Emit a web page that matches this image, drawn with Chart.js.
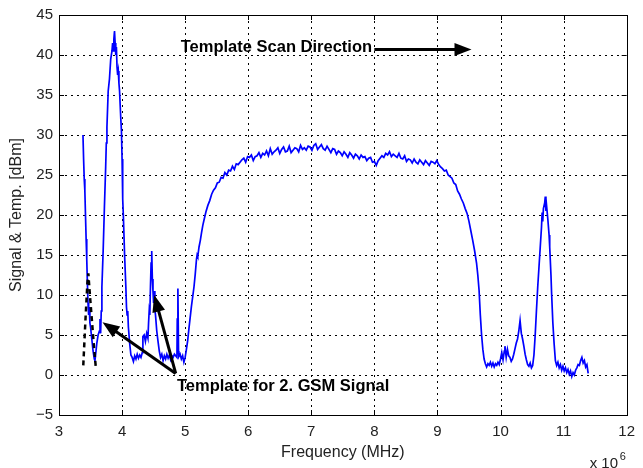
<!DOCTYPE html>
<html>
<head>
<meta charset="utf-8">
<script src="https://cdn.jsdelivr.net/npm/chart.js@4/dist/chart.umd.min.js"></script>
<style>
  html, body { margin: 0; padding: 0; background: #fff; }
  #wrap { width: 643px; height: 468px; position: relative; }
</style>
</head>
<body>
<div id="wrap"><canvas id="c" width="643" height="468"></canvas></div>
<script>
// ---------- data ----------
const xTicks = [3, 4, 5, 6, 7, 8, 9, 10, 11, 12];
const yTicks = [-5, 0, 5, 10, 15, 20, 25, 30, 35, 40, 45];

const signalFreq = [
  3.38,3.39,3.40,3.41,3.42,3.43,3.44,3.45,3.46,3.47,3.48,3.49,3.50,3.52,3.54,3.56,3.57,3.58,3.60,3.62,
  3.64,3.65,3.66,3.67,3.68,3.70,3.72,3.74,3.75,3.76,3.78,3.80,3.82,3.84,3.85,3.86,3.87,3.88,3.89,3.90,
  3.91,3.92,3.93,3.94,3.95,3.96,3.98,3.99,4.00,4.01,4.02,4.04,4.06,4.07,4.08,4.09,4.10,4.12,4.14,4.16,
  4.18,4.20,4.22,4.24,4.26,4.28,4.30,4.32,4.33,4.35,4.37,4.39,4.41,4.42,4.43,4.44,4.45,4.46,4.47,4.48,
  4.49,4.50,4.51,4.52,4.53,4.55,4.57,4.59,4.61,4.63,4.65,4.67,4.69,4.71,4.73,4.75,4.77,4.79,4.81,4.83,
  4.87,4.875,4.885,4.895,4.90,4.92,4.94,4.96,4.98,5.00,5.02,5.04,5.06,5.08,5.10,5.12,5.14,5.16,5.18,5.19,
  5.20,5.22,5.24,5.26,5.28,5.30,5.33,5.36,5.39,5.42,5.45,5.48,5.51,5.54,5.57,5.60,5.63,5.66,5.69,5.72,
  5.75,5.78,5.81,5.84,5.87,5.90,5.93,5.96,5.99,6.02,6.05,6.08,6.11,6.14,6.17,6.20,6.23,6.26,6.29,6.32,
  6.35,6.38,6.41,6.44,6.47,6.50,6.53,6.56,6.59,6.62,6.65,6.68,6.71,6.74,6.77,6.80,6.83,6.86,6.89,6.92,
  6.95,6.98,7.01,7.04,7.07,7.10,7.13,7.16,7.19,7.22,7.25,7.28,7.31,7.34,7.37,7.40,7.43,7.46,7.49,7.52,
  7.55,7.58,7.61,7.64,7.67,7.70,7.73,7.76,7.79,7.82,7.85,7.88,7.91,7.94,7.97,8.00,8.03,8.06,8.09,8.12,
  8.15,8.18,8.21,8.24,8.27,8.30,8.33,8.36,8.39,8.42,8.45,8.48,8.51,8.54,8.57,8.60,8.63,8.66,8.69,8.72,
  8.75,8.78,8.81,8.84,8.87,8.90,8.93,8.96,8.99,9.02,9.05,9.08,9.11,9.14,9.17,9.20,9.23,9.26,9.29,9.32,
  9.35,9.38,9.41,9.44,9.47,9.50,9.53,9.56,9.59,9.62,9.64,9.66,9.68,9.70,9.72,9.74,9.76,9.78,9.80,9.82,
  9.84,9.86,9.88,9.90,9.92,9.94,9.96,9.98,10.00,10.02,10.04,10.06,10.07,10.09,10.11,10.13,10.15,10.17,10.19,10.21,
  10.23,10.25,10.27,10.29,10.31,10.33,10.35,10.37,10.39,10.41,10.43,10.45,10.47,10.49,10.51,10.53,10.55,10.57,10.59,10.61,
  10.63,10.65,10.66,10.67,10.68,10.70,10.71,10.72,10.73,10.75,10.77,10.78,10.80,10.81,10.83,10.85,10.87,10.89,10.91,10.93,
  10.95,10.97,10.99,11.01,11.03,11.05,11.07,11.09,11.11,11.13,11.15,11.17,11.19,11.21,11.23,11.25,11.27,11.29,11.31,11.33,
  11.35,11.37,11.39
];
const signalLevel = [
  30,27,24.5,23,20,17,14.5,11.5,9,7.5,8.5,6.5,6,4.5,3,2,1.8,2.5,4,5,
  5.5,7,5.2,8,11,15.5,21,26,29,31,35.5,37,39.5,40.5,41.5,40.5,42,43,41.5,40,
  41,38.5,37.5,38,36.5,35.5,32,30.5,27,22,20,15,11,8.5,7.5,8,6,4,2.5,2.2,
  1.7,2.4,2.0,2.6,2.1,2.5,2.2,2.8,4.8,5,4.2,5.2,4.6,6.5,8,7.5,11,14,15.5,12,
  10.5,9,10.5,8.2,7.5,5.5,4.2,3,2.2,2.6,1.8,2.4,2.0,2.6,2.1,2.5,1.9,2.4,2.2,2.6,
  2.2,7,10.8,3,2.3,2.6,2.0,2.4,1.6,2.2,3.2,4.3,5.8,7.2,8.6,9.8,11,12.6,14.5,15,
  14.8,16,16.8,17.8,18.7,19.4,20.4,21.2,21.8,22.6,23.1,23.4,24.0,24.1,24.7,24.6,25.3,25.0,25.6,25.5,
  26.1,25.7,26.4,26.3,26.6,26.9,27.1,26.6,27.3,27.2,27.5,26.8,27.3,27.4,27.8,27.2,27.7,27.5,28.0,27.4,
  28.3,27.6,27.9,28.1,28.4,27.7,28.2,28.5,27.9,28.0,28.6,27.8,28.1,28.4,28.3,27.9,28.7,28.2,28.4,28.1,
  28.6,28.5,28.1,28.7,28.9,28.2,28.5,28.8,28.3,28.1,28.6,28.2,27.8,28.3,28.2,27.6,28.0,27.8,27.4,27.9,
  27.6,27.2,27.8,27.5,27.1,27.6,27.4,27.0,27.5,27.2,27.3,26.8,27.1,27.2,26.6,26.7,26.2,26.8,27.1,27.4,
  27.2,27.7,27.5,27.9,27.3,27.6,27.4,27.2,27.7,27.1,27.0,27.4,26.7,27.0,26.9,26.5,27.0,26.6,26.4,26.9,
  26.6,26.3,26.8,26.5,26.2,26.7,26.6,26.4,26.8,26.3,26.0,25.8,25.5,25.6,25.0,24.8,24.6,24.0,23.8,23.0,
  22.6,22.0,21.5,20.8,20.2,19.2,18.0,16.8,15.5,14.0,12.5,10.6,7.5,5.0,3.2,2.0,1.4,1.0,1.4,1.2,
  1.6,1.1,1.5,1.0,1.4,1.2,1.6,1.3,2.0,2.8,1.9,3.0,3.6,2.2,3.2,2.4,2.2,1.7,2.0,2.6,
  3.3,4.0,4.5,5.5,6.8,5.2,4.5,3.6,2.6,1.9,1.3,1.1,1.5,0.9,1.2,2.5,5.0,8.1,11,13.5,
  16,18.5,20.3,19.2,20.8,21.5,22.3,20.5,21.2,19.5,17.5,16,12.5,10.2,6.5,3.9,1.8,1.2,1.6,0.9,
  1.3,0.6,1.1,0.5,0.9,0.3,0.7,0.1,0.5,-0.2,0.3,0.0,0.6,0.9,1.3,1.2,1.8,2.2,1.5,1.8,
  1.0,1.3,0.2
];

const templateFreq  = [3.385, 3.42, 3.45, 3.465, 3.49, 3.52, 3.55, 3.585];
const templateLevel = [1.2, 7.0, 11.5, 12.7, 10.0, 7.0, 4.0, 0.8];

// annotation arrows and labels, in data units (MHz, dBm)
const arrowFrom = [[8.0, 40.7], [4.85, 0.2], [4.85, 0.2]];
const arrowTo   = [[9.54, 40.7], [3.69, 6.6], [4.51, 10.0]];
const noteText  = ["Template Scan Direction", "Template for 2. GSM Signal"];
const noteAt    = [[4.93, 40.95], [4.87, -1.4]];

// ---------- chart ----------
const toPts = (xs, ys) => xs.map((x, i) => ({ x: x, y: ys[i] }));
const FONT = "'Liberation Sans', Arial, Helvetica, sans-serif";

const framePlugin = {
  id: 'matlabFrame',
  beforeDatasetsDraw(chart) {
    const { ctx, chartArea: a, scales: { x, y } } = chart;
    ctx.save();
    ctx.strokeStyle = '#000';
    ctx.lineWidth = 1;
    ctx.setLineDash([2, 4]);
    xTicks.forEach(v => {
      const px = Math.round(x.getPixelForValue(v)) + 0.5;
      ctx.beginPath(); ctx.moveTo(px, a.top); ctx.lineTo(px, a.bottom); ctx.stroke();
    });
    yTicks.forEach(v => {
      const py = Math.round(y.getPixelForValue(v)) + 0.5;
      ctx.beginPath(); ctx.moveTo(a.left, py); ctx.lineTo(a.right, py); ctx.stroke();
    });
    ctx.restore();
  },
  afterDatasetsDraw(chart) {
    const { ctx, chartArea: a, scales: { x, y } } = chart;
    ctx.save();
    ctx.strokeStyle = '#000';
    ctx.lineWidth = 1;
    ctx.setLineDash([]);
    ctx.strokeRect(Math.round(a.left) + 0.5, Math.round(a.top) + 0.5,
                   Math.round(a.right - a.left), Math.round(a.bottom - a.top));
    const tl = 5;
    xTicks.forEach(v => {
      const px = Math.round(x.getPixelForValue(v)) + 0.5;
      ctx.beginPath();
      ctx.moveTo(px, a.bottom); ctx.lineTo(px, a.bottom - tl);
      ctx.moveTo(px, a.top); ctx.lineTo(px, a.top + tl);
      ctx.stroke();
    });
    yTicks.forEach(v => {
      const py = Math.round(y.getPixelForValue(v)) + 0.5;
      ctx.beginPath();
      ctx.moveTo(a.left, py); ctx.lineTo(a.left + tl, py);
      ctx.moveTo(a.right, py); ctx.lineTo(a.right - tl, py);
      ctx.stroke();
    });
    ctx.fillStyle = '#000';
    arrowFrom.forEach((f, i) => {
      const t = arrowTo[i];
      const x0 = x.getPixelForValue(f[0]), y0 = y.getPixelForValue(f[1]);
      const x1 = x.getPixelForValue(t[0]), y1 = y.getPixelForValue(t[1]);
      const ang = Math.atan2(y1 - y0, x1 - x0);
      const hl = 17, hw = 6.5;
      const bx = x1 - hl * Math.cos(ang), by = y1 - hl * Math.sin(ang);
      ctx.lineWidth = 3;
      ctx.beginPath(); ctx.moveTo(x0, y0); ctx.lineTo(bx + 2 * Math.cos(ang), by + 2 * Math.sin(ang)); ctx.stroke();
      ctx.beginPath();
      ctx.moveTo(x1, y1);
      ctx.lineTo(bx + hw * Math.sin(ang), by - hw * Math.cos(ang));
      ctx.lineTo(bx - hw * Math.sin(ang), by + hw * Math.cos(ang));
      ctx.closePath();
      ctx.fill();
    });
    ctx.font = "bold 16.5px " + FONT;
    ctx.textAlign = 'left';
    ctx.textBaseline = 'middle';
    noteText.forEach((s, i) => {
      ctx.fillText(s, x.getPixelForValue(noteAt[i][0]), y.getPixelForValue(noteAt[i][1]));
    });
    ctx.restore();
  },
  afterDraw(chart) {
    const { ctx, chartArea: a } = chart;
    ctx.save();
    ctx.fillStyle = '#222';
    ctx.textBaseline = 'alphabetic';
    ctx.textAlign = 'left';
    ctx.font = "15px " + FONT;
    ctx.fillText('x 10', a.right - 37, 468);
    ctx.font = "11px " + FONT;
    ctx.fillText('6', a.right - 7, 460);
    ctx.restore();
  }
};

new Chart(document.getElementById('c'), {
  type: 'line',
  data: {
    datasets: [
      {
        label: 'Signal',
        data: toPts(signalFreq, signalLevel),
        borderColor: '#0000ff',
        borderWidth: 1.7,
        pointRadius: 0,
        tension: 0,
        order: 2
      },
      {
        label: 'Template',
        data: toPts(templateFreq, templateLevel),
        borderColor: '#000',
        borderWidth: 2.5,
        borderDash: [5, 4],
        pointRadius: 0,
        tension: 0,
        order: 1
      }
    ]
  },
  options: {
    responsive: false,
    animation: false,
    devicePixelRatio: 1,
    layout: { padding: { top: 14, right: 10, left: 0, bottom: 0 } },
    plugins: { legend: { display: false }, tooltip: { enabled: false } },
    scales: {
      x: {
        type: 'linear',
        min: 3, max: 12,
        afterBuildTicks: s => { s.ticks = xTicks.map(v => ({ value: v })); },
        afterFit: s => { s.height = 53; },
        grid: { display: false, drawTicks: false },
        border: { display: false },
        ticks: { font: { family: FONT, size: 15 }, color: '#222', padding: 8, maxRotation: 0 },
        title: { display: true, text: 'Frequency (MHz)', font: { family: FONT, size: 16 }, color: '#222', padding: { top: 0, bottom: 6 } }
      },
      y: {
        type: 'linear',
        min: -5, max: 45,
        afterBuildTicks: s => { s.ticks = yTicks.map(v => ({ value: v })); },
        afterFit: s => { s.width = 59; },
        grid: { display: false, drawTicks: false },
        border: { display: false },
        ticks: {
          font: { family: FONT, size: 15 }, color: '#222', padding: 6,
          callback: v => String(v).replace('-', '\u2212')
        },
        title: { display: true, text: 'Signal & Temp. [dBm]', font: { family: FONT, size: 16 }, color: '#222', padding: { top: 7, bottom: 0 } }
      }
    }
  },
  plugins: [framePlugin]
});
</script>
</body>
</html>
